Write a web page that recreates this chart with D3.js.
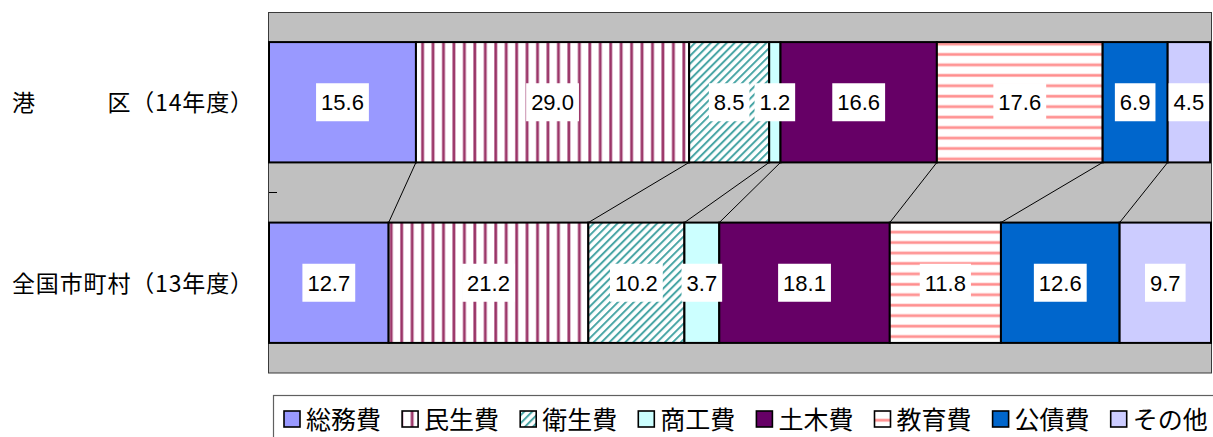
<!DOCTYPE html>
<html>
<head>
<meta charset="utf-8">
<script src="https://cdn.jsdelivr.net/npm/d3@7/dist/d3.min.js"></script>
<style>
  body { margin: 0; background: #fff; }
  svg { display: block; }
</style>
</head>
<body>
<svg id="chart" width="1213" height="437"></svg>
<script>
// Expenditure shares (%) by purpose
const categories = ["港　　　区（14年度）", "全国市町村（13年度）"];
const seriesNames = ["総務費", "民生費", "衛生費", "商工費", "土木費", "教育費", "公債費", "その他"];
const minatoValues = [15.6, 29.0, 8.5, 1.2, 16.6, 17.6, 6.9, 4.5];
const nationalValues = [12.7, 21.2, 10.2, 3.7, 18.1, 11.8, 12.6, 9.7];
const axisMax = 100;

// Fills per series (solid colours or pattern ids)
const seriesFills = ["#9999FF", "url(#pStripeV)", "url(#pHatch)", "#CCFFFF",
                     "#660066", "url(#pStripeH)", "#0066CC", "#CCCCFF"];

const rows = [minatoValues, nationalValues];

const svg = d3.select("#chart");
const defs = svg.append("defs");

// vertical magenta stripes
const pv = defs.append("pattern").attr("id", "pStripeV")
  .attr("patternUnits", "userSpaceOnUse").attr("width", 10.45).attr("height", 10);
pv.append("rect").attr("width", 10.45).attr("height", 10).attr("fill", "#fff");
pv.append("rect").attr("x", 3).attr("width", 3.2).attr("height", 10).attr("fill", "#C07AA0");
pv.append("rect").attr("x", 3.6).attr("width", 2).attr("height", 10).attr("fill", "#993366");

// diagonal teal hatch
const ph = defs.append("pattern").attr("id", "pHatch")
  .attr("patternUnits", "userSpaceOnUse").attr("width", 5.6).attr("height", 10)
  .attr("patternTransform", "rotate(45)");
ph.append("rect").attr("width", 5.6).attr("height", 10).attr("fill", "#fff");
ph.append("rect").attr("x", 0).attr("width", 2).attr("height", 10).attr("fill", "#4AA6A6");

// horizontal pink stripes
const pH = defs.append("pattern").attr("id", "pStripeH")
  .attr("patternUnits", "userSpaceOnUse").attr("width", 10).attr("height", 10.45);
pH.append("rect").attr("width", 10).attr("height", 10.45).attr("fill", "#fff");
pH.append("rect").attr("y", 0.5).attr("width", 10).attr("height", 3.4).attr("fill", "#FFC4C4");
pH.append("rect").attr("y", 1.2).attr("width", 10).attr("height", 2).attr("fill", "#FF8E8E");

const x = d3.scaleLinear().domain([0, axisMax]).range([269, 1211]);
const y = d3.scaleBand().domain(categories).range([12, 373])
  .paddingInner(1 / 3).paddingOuter(1 / 6);
const bw = y.bandwidth();

// plot area
svg.append("rect")
  .attr("x", 268.5).attr("y", 12.5)
  .attr("width", 943).attr("height", 360.5)
  .attr("fill", "#C0C0C0").attr("stroke", "#3a3a3a").attr("stroke-width", 1);

// tick between the two categories
const midY = (y(categories[0]) + bw + y(categories[1])) / 2;
svg.append("line")
  .attr("x1", 269).attr("x2", 277)
  .attr("y1", midY).attr("y2", midY)
  .attr("stroke", "#000").attr("stroke-width", 1);

// cumulative stacks
const stacks = rows.map(vals => {
  let acc = 0;
  return vals.map((v, i) => { const s = acc; acc += v; return { i, v, s, e: acc }; });
});

// connector lines between matching boundaries
for (let k = 1; k < seriesNames.length; k++) {
  svg.append("line")
    .attr("x1", x(stacks[0][k].s)).attr("y1", y(categories[0]) + bw)
    .attr("x2", x(stacks[1][k].s)).attr("y2", y(categories[1]))
    .attr("stroke", "#000").attr("stroke-width", 1);
}

// bar segments
stacks.forEach((segs, r) => {
  svg.append("g").selectAll("rect")
    .data(segs).join("rect")
    .attr("x", d => x(d.s)).attr("y", y(categories[r]))
    .attr("width", d => x(d.e) - x(d.s)).attr("height", bw)
    .attr("fill", d => seriesFills[d.i])
    .attr("stroke", "#000").attr("stroke-width", 2);
});

// value labels in white boxes
stacks.forEach((segs, r) => {
  const cy = y(categories[r]) + bw / 2;
  segs.forEach(d => {
    const g = svg.append("g");
    const cx = (x(d.s) + x(d.e)) / 2;
    const box = g.append("rect").attr("fill", "#fff");
    const t = g.append("text")
      .attr("x", cx).attr("y", cy + 8)
      .attr("text-anchor", "middle")
      .attr("font-family", "Liberation Sans, Arial, sans-serif")
      .attr("font-size", 22).attr("fill", "#000")
      .text(d.v.toFixed(1));
    const w = t.node().getComputedTextLength() + 10;
    box.attr("x", cx - w / 2).attr("y", cy - 19).attr("width", w).attr("height", 38);
  });
});

// category labels
svg.append("g").selectAll("text")
  .data(categories).join("text")
  .attr("x", 12).attr("y", d => y(d) + bw / 2 + 9)
  .attr("font-family", "Noto Sans CJK JP, sans-serif")
  .attr("font-size", 23).attr("fill", "#000")
  .attr("textLength", 241).attr("lengthAdjust", "spacing")
  .text(d => d);

// legend
const lg = svg.append("g");
lg.append("rect")
  .attr("x", 273.5).attr("y", 395.5).attr("width", 1000).attr("height", 100)
  .attr("fill", "#fff").attr("stroke", "#606060").attr("stroke-width", 1.2);
seriesNames.forEach((name, i) => {
  const x0 = 284 + i * 118.1;
  lg.append("rect")
    .attr("x", x0).attr("y", 411).attr("width", 16).attr("height", 16)
    .attr("fill", seriesFills[i]).attr("stroke", "#000").attr("stroke-width", 1.6);
  lg.append("text")
    .attr("x", x0 + 22).attr("y", 429)
    .attr("font-family", "Noto Sans CJK JP, sans-serif")
    .attr("font-size", 25).attr("fill", "#000")
    .text(name);
});
</script>
</body>
</html>
